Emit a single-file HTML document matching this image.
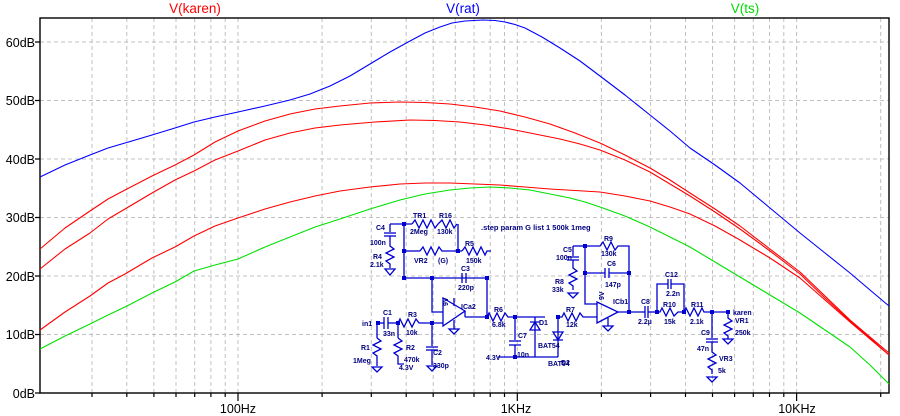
<!DOCTYPE html>
<html><head><meta charset="utf-8"><style>
body{margin:0;background:#fff;}
svg{display:block;font-family:"Liberation Sans",Arial,sans-serif;}
.ax{font-size:12.5px;fill:#000;}
.s{font-size:7px;font-weight:bold;fill:#000080;}
.w{stroke:#0000d0;stroke-width:1.3;fill:none;}
</style></head><body>
<svg width="900" height="416" viewBox="0 0 900 416" xmlns="http://www.w3.org/2000/svg">
<path stroke="#c0c0c0" stroke-width="1" stroke-dasharray="4,3" fill="none" d="M92,18V393M126.8,18V393M153.9,18V393M176,18V393M194.7,18V393M210.9,18V393M225.2,18V393M238,18V393M322.1,18V393M371.3,18V393M406.2,18V393M433.2,18V393M455.3,18V393M474,18V393M490.2,18V393M504.5,18V393M517.3,18V393M601.4,18V393M650.6,18V393M685.5,18V393M712.5,18V393M734.6,18V393M753.3,18V393M769.5,18V393M783.8,18V393M796.6,18V393M880.7,18V393M40,42H889M40,100.5H889M40,159H889M40,217.5H889M40,276H889M40,334.5H889"/>
<path stroke="#000" stroke-width="1.2" fill="none" d="M92,393V397M126.8,393V397M153.9,393V397M176,393V397M194.7,393V397M210.9,393V397M225.2,393V397M238,393V401M322.1,393V397M371.3,393V397M406.2,393V397M433.2,393V397M455.3,393V397M474,393V397M490.2,393V397M504.5,393V397M517.3,393V401M601.4,393V397M650.6,393V397M685.5,393V397M712.5,393V397M734.6,393V397M753.3,393V397M769.5,393V397M783.8,393V397M796.6,393V401M880.7,393V397M35,42H40M35,100.5H40M35,159H40M35,217.5H40M35,276H40M35,334.5H40M35,393H40"/>
<rect x="40" y="18" width="849" height="375" fill="none" stroke="#000" stroke-width="1.4"/>
<g class="ax" text-anchor="end">
<text x="35" y="47">60dB</text><text x="35" y="105">50dB</text><text x="35" y="164">40dB</text>
<text x="35" y="222">30dB</text><text x="35" y="281">20dB</text><text x="35" y="339">10dB</text><text x="35" y="398">0dB</text>
</g>
<g class="ax" text-anchor="middle">
<text x="238" y="413">100Hz</text><text x="516" y="413">1KHz</text><text x="797" y="413">10KHz</text>
</g>
<g font-size="13.5" text-anchor="middle">
<text x="195" y="13" fill="#ff0000">V(karen)</text>
<text x="463" y="13" fill="#0000ff">V(rat)</text>
<text x="745" y="13" fill="#00dd00">V(ts)</text>
</g>
<g fill="none" stroke-width="1.1" stroke-linejoin="round">
<polyline stroke="#0000ff" points="40,177 65,165 90,155 108,148 125,143 152,135 175,128 194,122 215,117 238,112 265,106 290,100 310,94 330,86 350,76 370,64 390,52 410,41 425,33 440,27 452,23 465,21 483,20 495,20.5 505,22 515,24.5 525,28 542,37 560,48 580,61 600,76 625,95 650,115 670,131 690,148 715,165 740,183 770,208 800,233 825,253 850,273 870,290 889,306"/>
<polyline stroke="#ff0000" points="40,249 65,228 90,211 108,199 125,190 152,176 175,165 194,155 215,142 238,131 265,121 290,114 315,109 340,106 370,103 400,102 425,102.5 450,104 475,107 500,111 525,117 550,124 575,133 600,143 625,155 650,168 670,180 690,193 715,209 740,226 770,249 800,272 825,296 850,320 870,337 889,353"/>
<polyline stroke="#ff0000" points="40,269 65,249 90,233 108,219 125,209 152,193 175,180 194,171 215,160 238,151 265,140 290,133 315,128 340,125 375,122 410,120 435,120.5 460,122 485,125 510,129 535,134 560,139 580,144 600,150 625,160 650,172 670,184 690,196 715,212 740,229 770,251 800,274 825,298 850,321 870,338 889,355"/>
<polyline stroke="#ff0000" points="40,330 65,312 90,296 108,283 125,274 152,258 175,247 194,236 215,226 238,218 265,209 290,202 315,196 340,191 370,187 400,184 425,183 450,183 475,184 500,185 525,187 550,189 575,190.5 600,192 625,196 650,201 670,207 690,214 715,226 740,240 770,258 800,278 825,300 850,322 870,339 889,355"/>
<polyline stroke="#00e000" points="40,349 65,336 90,324 108,315 125,307 152,293 175,282 194,271 215,265 238,259 265,247 290,237 315,227 340,219 370,209 400,200 425,194 450,190 470,188 490,187 510,188 530,190 550,194 570,198 585,202 600,207 625,216 650,227 670,237 690,247 715,262 740,277 770,295 800,313 825,330 850,347 870,365 889,384"/>
</g>
<!-- schematic -->
<g class="w">
<polyline points="390,224 404,224 412,224"/>
<path d="M412,224 l3,-4 l4,8 l4,-8 l4,8 l4,-8 l4,8 l3,-4 l4,-4 l4,8 l4,-8 l4,8 l3,-4"/>
<polyline points="404,224 404,278 487,278 487,317"/>
<polyline points="404,251 420,251"/>
<path d="M420,251 l3,-4 l4,8 l4,-8 l4,8 l4,-8 l3,4 l16,0"/>
<polyline points="458,224 458,251 462,251"/>
<path d="M462,251 l3,-4 l4,8 l4,-8 l4,8 l4,-8 l4,8 l2,-4 l4,0"/>
<line x1="390" y1="224" x2="390" y2="232"/><line x1="384" y1="233" x2="396" y2="233"/><line x1="384" y1="236" x2="396" y2="236"/>
<path d="M390,236 l0,10 l4,3 l-8,4 l8,4 l-8,4 l4,3 l0,4"/><path d="M385,269 l10,0 l-5,6 z"/>
<line x1="462" y1="273" x2="462" y2="283"/><line x1="466" y1="273" x2="466" y2="283"/>
<polyline points="432,278 432,312 443,312"/>
<path d="M443,298 L465,311 L443,326 Z"/>
<line x1="465" y1="317" x2="487" y2="317"/><line x1="465" y1="311" x2="465" y2="317"/>
<line x1="454" y1="306" x2="454" y2="298"/><line x1="454" y1="320" x2="454" y2="329"/><path d="M449,329 l10,0 l-5,5z"/>
<polyline points="378,323 384,323"/><line x1="384" y1="317" x2="384" y2="329"/><line x1="388" y1="317" x2="388" y2="329"/>
<polyline points="388,323 398,323"/><path d="M398,323 l2,-4 l4,8 l4,-8 l4,8 l4,-8 l3,4 l24,0"/>
<polyline points="377,323 377,338"/><path d="M377,338 l4,3 l-8,4 l8,4 l-8,4 l4,3 l0,10"/><path d="M372,367 l10,0 l-5,5z"/>
<polyline points="398,323 398,338"/><path d="M398,338 l4,3 l-8,4 l8,4 l-8,4 l4,3 l0,8 l6,0"/>
<polyline points="432,323 432,346"/><line x1="426" y1="347" x2="438" y2="347"/><line x1="426" y1="350" x2="438" y2="350"/><line x1="432" y1="350" x2="432" y2="365"/><path d="M427,366 l10,0 l-5,5z"/>
<path d="M487,317 l2,-4 l4,8 l4,-8 l4,8 l4,-8 l3,4 l37,0"/>
<polyline points="515,317 515,340"/><line x1="509" y1="341" x2="521" y2="341"/><line x1="509" y1="345" x2="521" y2="345"/><polyline points="515,345 515,357"/>
<polyline points="498,357 558,357"/>
<polyline points="535,317 535,357"/><path d="M530,330 l10,0 l-5,-8z M530,322 l10,0"/>
<polyline points="558,317 558,357"/><path d="M553,332 l10,0 l-5,8z M553,340 l10,0"/>
<path d="M558,317 l4,0 l2,-4 l4,8 l4,-8 l4,8 l4,-8 l3,4 l14,0"/>
<path d="M597,302 L618,312 L597,323 Z"/>
<polyline points="585,246 585,304 597,304"/>
<path d="M585,246 l15,0 l3,-4 l4,8 l4,-8 l4,8 l3,-4 l11,0 l0,66"/>
<polyline points="585,273 605,273"/><line x1="605" y1="268" x2="605" y2="278"/><line x1="609" y1="268" x2="609" y2="278"/><polyline points="609,273 629,273"/>
<polyline points="573,246 585,246"/><line x1="573" y1="246" x2="573" y2="256"/><line x1="567" y1="257" x2="579" y2="257"/><line x1="567" y1="260" x2="579" y2="260"/>
<path d="M573,260 l0,8 l4,3 l-8,4 l8,4 l-8,4 l4,3 l0,4"/><path d="M568,293 l10,0 l-5,5z"/>
<line x1="608" y1="318" x2="608" y2="326"/><path d="M603,326 l10,0 l-5,5z"/>
<polyline points="618,312 645,312"/><line x1="645" y1="306" x2="645" y2="318"/><line x1="648" y1="306" x2="648" y2="318"/>
<polyline points="648,312 657,312"/>
<polyline points="657,312 657,284 668,284"/><line x1="668" y1="279" x2="668" y2="289"/><line x1="671" y1="279" x2="671" y2="289"/><polyline points="671,284 684,284 684,312"/>
<path d="M657,312 l3,0 l2,-4 l4,8 l4,-8 l4,8 l4,-4 l6,0 l2,-4 l4,8 l4,-8 l4,8 l4,-8 l2,4 l26,0"/>
<polyline points="712,312 712,338"/><line x1="706" y1="339" x2="718" y2="339"/><line x1="706" y1="342" x2="718" y2="342"/>
<path d="M712,342 l0,10 l4,3 l-8,4 l8,4 l-8,4 l4,3 l0,4"/><path d="M707,377 l10,0 l-5,5z"/>
<path d="M728,312 l0,6 l4,3 l-8,4 l8,4 l-8,4 l4,3 l0,3"/><path d="M723,339 l10,0 l-5,5z"/>
</g>
<g fill="#0000d0">
<rect x="402" y="222" width="4" height="4"/><rect x="402" y="249" width="4" height="4"/><rect x="456" y="249" width="4" height="4"/>
<rect x="402" y="276" width="4" height="4"/><rect x="430" y="276" width="4" height="4"/><rect x="485" y="276" width="4" height="4"/>
<rect x="485" y="315" width="4" height="4"/><rect x="376" y="321" width="4" height="4"/><rect x="396" y="321" width="4" height="4"/>
<rect x="430" y="321" width="4" height="4"/><rect x="513" y="315" width="4" height="4"/><rect x="513" y="355" width="4" height="4"/>
<rect x="556" y="315" width="4" height="4"/><rect x="583" y="244" width="4" height="4"/><rect x="583" y="271" width="4" height="4"/>
<rect x="627" y="271" width="4" height="4"/><rect x="627" y="310" width="4" height="4"/><rect x="655" y="310" width="4" height="4"/>
<rect x="682" y="310" width="4" height="4"/><rect x="710" y="310" width="4" height="4"/><rect x="726" y="310" width="4" height="4"/>
</g>
<g class="s">
<text x="413" y="218">TR1</text><text x="439" y="218">R16</text><text x="376" y="230">C4</text>
<text x="410" y="234">2Meg</text><text x="437" y="234">130k</text><text x="481" y="230" font-size="7.5" fill="#000080">.step param G  list 1 500k 1meg</text>
<text x="370" y="245">100n</text><text x="465" y="246">R5</text><text x="373" y="259">R4</text><text x="370" y="267">2.1k</text>
<text x="414" y="263">VR2</text><text x="438" y="263">(G)</text><text x="466" y="263">150k</text>
<text x="461" y="271">C3</text><text x="458" y="290">220p</text><text x="461" y="309">ICa2</text>
<text x="448" y="306" transform="rotate(-90 448 306)">9V</text>
<text x="362" y="326">in1</text><text x="383" y="315">C1</text><text x="383" y="336">33n</text><text x="408" y="317">R3</text><text x="406" y="335">10k</text>
<text x="494" y="312">R6</text><text x="492" y="327">6.8k</text><text x="539" y="325">D1</text><text x="518" y="338">C7</text><text x="517" y="357">10n</text>
<text x="538" y="348">BAT54</text><text x="486" y="360">4.3V</text><text x="361" y="350">R1</text><text x="353" y="363">1Meg</text>
<text x="406" y="350">R2</text><text x="404" y="362">470k</text><text x="399" y="370">4.3V</text><text x="433" y="355">C2</text><text x="433" y="368">330p</text>
<text x="561" y="365">D2</text><text x="548" y="366">BAT54</text>
<text x="563" y="252">C5</text><text x="556" y="260">100n</text><text x="604" y="241">R9</text><text x="601" y="256">130k</text>
<text x="607" y="266">C6</text><text x="605" y="287">147p</text><text x="555" y="284">R8</text><text x="552" y="292">33k</text>
<text x="613" y="304">ICb1</text><text x="604" y="300" transform="rotate(-90 604 300)">9V</text><text x="566" y="312">R7</text><text x="566" y="327">12k</text>
<text x="641" y="304">C8</text><text x="638" y="324">2.2µ</text><text x="665" y="277">C12</text><text x="666" y="296">2.2n</text>
<text x="663" y="307">R10</text><text x="664" y="324">15k</text><text x="691" y="307">R11</text><text x="690" y="324">2.1k</text>
<text x="701" y="335">C9</text><text x="697" y="351">47n</text><text x="719" y="361">VR3</text><text x="718" y="373">5k</text>
<text x="733" y="315">karen</text><text x="735" y="323">VR1</text><text x="735" y="335">250k</text>
</g>
</svg>
</body></html>
